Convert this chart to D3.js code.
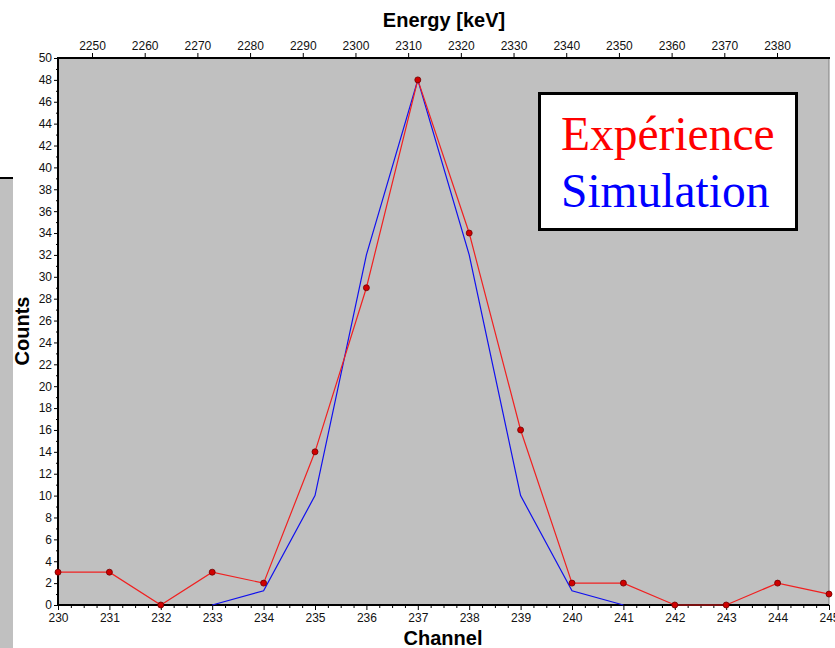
<!DOCTYPE html>
<html>
<head>
<meta charset="utf-8">
<script src="https://cdn.jsdelivr.net/npm/d3@7"></script>
<style>
    body { margin: 0; background: #ffffff; }
    svg text { font-family: "Liberation Sans", Arial, sans-serif; }
</style>
</head>
<body>
<div id="canvas"></div>
<script>
"use strict"

/* data */
let channels = [230, 231, 232, 233, 234, 235, 236, 237, 238, 239, 240, 241, 242, 243, 244, 245];
let experience = [3, 3, 0, 3, 2, 14, 29, 48, 34, 16, 2, 2, 0, 0, 2, 1];
let simChannels = [233, 234, 235, 236, 237, 238, 239, 240, 241];
let simulation = [0, 1.3, 10, 32, 48, 32, 10, 1.3, 0];
let energyTicks = [2250, 2260, 2270, 2280, 2290, 2300, 2310, 2320, 2330, 2340, 2350, 2360, 2370, 2380];
let countTicks = d3.range(0, 51, 2);
let legendLabels = ["Expérience", "Simulation"];

/* canvas */
let drawing = d3.select("#canvas")
    .append("svg")
    .attr("width", 835)
    .attr("height", 648)
    .style("display", "block");

let plotLeft = 58, plotRight = 829, plotTop = 58, plotBottom = 605;

/* scales */
let x = d3.scaleLinear().domain([230, 245]).range([plotLeft, plotRight]);
let y = d3.scaleLinear().domain([0, 50]).range([plotBottom, plotTop]);
// energy axis on top, 2250 sits at x=92 and 2380 at x=777
let xE = d3.scaleLinear().domain([2250, 2380]).range([92, 777]);

/* strip of another window on the left edge */
let strip = drawing.append("rect")
    .attr("x", 0)
    .attr("y", 178)
    .attr("width", 13)
    .attr("height", 470)
    .attr("fill", "#c0c0c0");

let stripLine = drawing.append("line")
    .attr("x1", 0)
    .attr("y1", 178)
    .attr("x2", 13)
    .attr("y2", 178)
    .attr("stroke", "black")
    .attr("stroke-width", 2);

/* plot background */
let plotArea = drawing.append("rect")
    .attr("x", plotLeft)
    .attr("y", plotTop)
    .attr("width", plotRight - plotLeft)
    .attr("height", plotBottom - plotTop)
    .attr("fill", "#c0c0c0");

let rightEdge = drawing.append("line")
    .attr("x1", plotRight)
    .attr("y1", plotTop)
    .attr("x2", plotRight)
    .attr("y2", plotBottom)
    .attr("stroke", "#808080")
    .attr("stroke-width", 1);

/* axes */
function styleAxis(g) {
    g.select(".domain").remove();
    g.selectAll(".tick line").attr("stroke", "black");
    g.selectAll(".tick text")
        .attr("fill", "#111")
        .style("font-size", "12px")
        .style("font-family", "'Liberation Sans', Arial, sans-serif");
}

// minor ticks first
let yMinor = drawing.append("g")
    .attr("transform", "translate(" + plotLeft + ",0)")
    .call(d3.axisLeft(y).tickValues(d3.range(1, 50, 2)).tickSize(2).tickFormat(""))
    .call(styleAxis);

let xMinor = drawing.append("g")
    .attr("transform", "translate(0," + plotBottom + ")")
    .call(d3.axisBottom(x).tickValues(d3.range(230, 245.01, 0.25).filter(d => d % 1 !== 0)).tickSize(3).tickFormat(""))
    .call(styleAxis);

let yAxis = drawing.append("g")
    .attr("transform", "translate(" + plotLeft + ",0)")
    .call(d3.axisLeft(y).tickValues(countTicks).tickSize(4).tickPadding(2))
    .call(styleAxis);

let xAxis = drawing.append("g")
    .attr("transform", "translate(0," + plotBottom + ")")
    .call(d3.axisBottom(x).tickValues(channels).tickSize(5).tickPadding(3).tickFormat(d3.format("d")))
    .call(styleAxis);

let topAxis = drawing.append("g")
    .attr("transform", "translate(0," + plotTop + ")")
    .call(d3.axisTop(xE).tickValues(energyTicks).tickSize(5).tickPadding(3).tickFormat(d3.format("d")))
    .call(styleAxis);

/* frame lines */
let frameTop = drawing.append("line")
    .attr("x1", plotLeft - 1)
    .attr("y1", plotTop)
    .attr("x2", plotRight + 1)
    .attr("y2", plotTop)
    .attr("stroke", "black")
    .attr("stroke-width", 2);

let frameLeft = drawing.append("line")
    .attr("x1", plotLeft)
    .attr("y1", plotTop - 1)
    .attr("x2", plotLeft)
    .attr("y2", plotBottom + 1)
    .attr("stroke", "black")
    .attr("stroke-width", 2);

let frameBottom = drawing.append("line")
    .attr("x1", plotLeft - 1)
    .attr("y1", plotBottom)
    .attr("x2", plotRight)
    .attr("y2", plotBottom)
    .attr("stroke", "black")
    .attr("stroke-width", 2);

/* axis titles */
let energyTitle = drawing.append("text")
    .attr("x", 444)
    .attr("y", 27)
    .attr("text-anchor", "middle")
    .style("font-size", "20px")
    .style("font-weight", "bold")
    .text("Energy [keV]");

let channelTitle = drawing.append("text")
    .attr("x", 443)
    .attr("y", 645)
    .attr("text-anchor", "middle")
    .style("font-size", "20px")
    .style("font-weight", "bold")
    .text("Channel");

let countsTitle = drawing.append("text")
    .attr("transform", "translate(29,331) rotate(-90)")
    .attr("text-anchor", "middle")
    .style("font-size", "20px")
    .style("font-weight", "bold")
    .text("Counts");

/* simulation curve (blue) */
let simLine = d3.line()
    .x((d, i) => x(simChannels[i]))
    .y(d => y(d));

let simPath = drawing.append("path")
    .attr("d", simLine(simulation))
    .attr("fill", "none")
    .attr("stroke", "#1010ee")
    .attr("stroke-width", 1.2);

/* experiment curve (red) with markers */
let expLine = d3.line()
    .x((d, i) => x(channels[i]))
    .y(d => y(d));

let expPath = drawing.append("path")
    .attr("d", expLine(experience))
    .attr("fill", "none")
    .attr("stroke", "#f02020")
    .attr("stroke-width", 1.2);

let expDots = drawing.append("g")
    .selectAll("circle")
    .data(experience)
    .join("circle")
    .attr("cx", (d, i) => x(channels[i]))
    .attr("cy", d => y(d))
    .attr("r", 3)
    .attr("fill", "#d00000")
    .attr("stroke", "#700000")
    .attr("stroke-width", 0.8);

/* legend box */
let legendBox = drawing.append("rect")
    .attr("x", 539.5)
    .attr("y", 93.5)
    .attr("width", 257)
    .attr("height", 136)
    .attr("fill", "white")
    .attr("stroke", "black")
    .attr("stroke-width", 3);

let legendColors = ["#ff0000", "#0000ff"];
let legendText = drawing.append("g")
    .selectAll("text")
    .data(legendLabels)
    .join("text")
    .attr("x", 561)
    .attr("y", (d, i) => 150 + i * 57)
    .attr("fill", (d, i) => legendColors[i])
    .style("font-family", "'Liberation Serif', 'Times New Roman', serif")
    .style("font-size", "47.5px")
    .text(d => d);
</script>
</body>
</html>
